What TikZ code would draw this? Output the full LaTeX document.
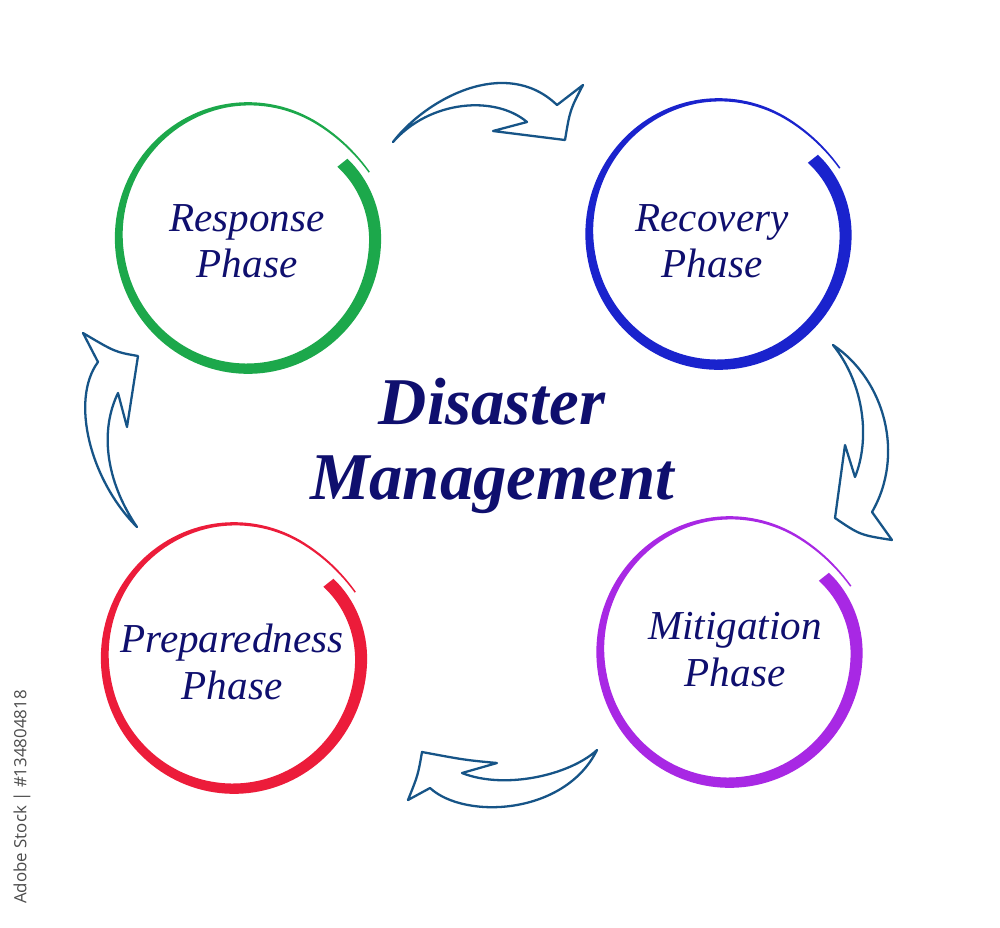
\documentclass[tikz,border=0pt]{standalone}
\usepackage{fontspec}
\setmainfont{Liberation Serif}
\newfontfamily\stockfont{Open Sans}
\usepackage{xcolor}
\usepackage{tikz}

\definecolor{navytext}{RGB}{15,15,110}
\definecolor{ringgreen}{RGB}{28,168,75}
\definecolor{ringblue}{RGB}{26,35,205}
\definecolor{ringred}{RGB}{236,28,58}
\definecolor{ringpurple}{RGB}{168,40,228}
\definecolor{arrowblue}{RGB}{22,84,135}

\tikzset{
  phase label/.style={text=navytext, align=center, font=\fontsize{11.7}{13.2}\selectfont\itshape},
  title label/.style={text=navytext, align=center, font=\fontsize{19}{21.3}\selectfont\bfseries\itshape},
  block arrow/.style={draw=arrowblue, line width=0.65pt, line join=round, fill=white},
  declare function={
    rampa(\x)=max(0,1-(\x-28)/30);
    rampb(\x)=max(0,1-(398-\x)/40);
    rout(\x)=134.5+5*rampa(\x)*rampa(\x)-7*rampb(\x)*rampb(\x);
    wd(\x)=1.5+2*min(1,(\x-28)/72)+5*max(0,min(1,(\x-100)/90))+4.5*max(0,(\x-190)/208);
  }
}

% brush ring: centre x, centre y, colour
\newcommand{\phasering}[3]{%
  \fill[#3] plot[domain=28:398, samples=150, variable=\a]
      ({#1+0.99*rout(\a)*cos(\a)}, {#2-1.01*rout(\a)*sin(\a)})
    -- plot[domain=398:28, samples=150, variable=\a]
      ({#1+0.99*(rout(\a)-wd(\a))*cos(\a)}, {#2-1.01*(rout(\a)-wd(\a))*sin(\a)})
    -- cycle;
}

\begin{document}
\begin{tikzpicture}[x=0.01cm, y=-0.01cm]
% Canvas
\fill[white] (0,0) rectangle (1000,927);
\useasboundingbox (0,0) rectangle (1000,927);

% Phase rings
\phasering{248}{238}{ringgreen}
\phasering{718.5}{234}{ringblue}
\phasering{234}{658}{ringred}
\phasering{729.5}{652}{ringpurple}

% Phase names
\node[phase label] (response) at (247,241.5) {Response\\Phase};
\node[phase label] (recovery) at (712,241) {Recovery\\Phase};
\node[phase label] (preparedness) at (232,662) {Preparedness\\Phase};
\node[phase label] (mitigation) at (735,649.5) {Mitigation\\Phase};

% Centre title
\node[title label] (title) at (492,446) {Disaster\\Management};

% Arrows between phases
\draw[block arrow] (393,142) .. controls (425,100) and (505,55) .. (557,105)
  -- (583,85) .. controls (570,110) .. (565,140) -- (493,131) -- (527,122)
  .. controls (495,95) and (430,100) .. (393,142) -- cycle;
\draw[block arrow] (833,345) .. controls (885,380) and (905,455) .. (872,512)
  -- (892,540) .. controls (860,535) .. (835,518) -- (845,445) -- (855,477)
  .. controls (870,440) and (865,385) .. (833,345) -- cycle;
\draw[block arrow] (597,750) .. controls (570,775) and (505,790) .. (462,773)
  -- (497,763) .. controls (465,760) .. (422,752) .. controls (418,775) .. (408,800)
  -- (430,788) .. controls (465,820) and (565,815) .. (597,750) -- cycle;
\draw[block arrow] (137,527) .. controls (90,480) and (70,400) .. (98,362)
  -- (83,333) .. controls (115,352) .. (138,356) -- (127,427) -- (118,393)
  .. controls (100,430) and (105,480) .. (137,527) -- cycle;

% Stock id
\node[rotate=90, text=black!70, font=\stockfont\fontsize{4.8}{5}\selectfont] (stockid) at (22,797) {Adobe Stock | \#134804818};

\end{tikzpicture}
\end{document}
